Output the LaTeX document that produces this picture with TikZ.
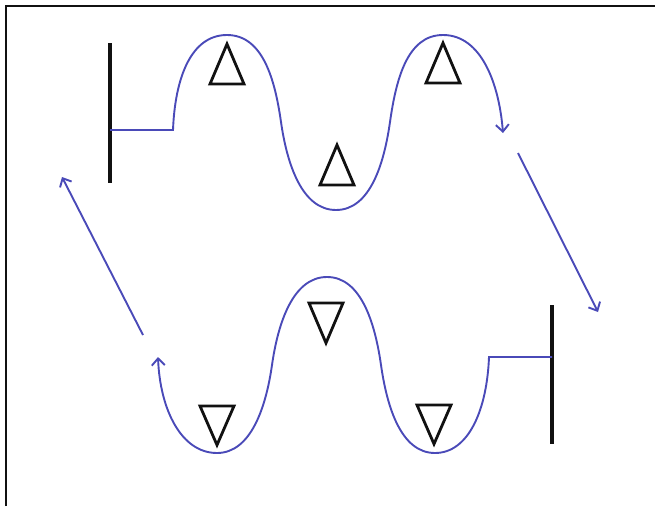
\documentclass[tikz,border=0pt]{standalone}
\usepackage{xcolor}
\usepackage{tikz}
\usetikzlibrary{arrows.meta}
\definecolor{ink}{HTML}{111111}
\definecolor{wav}{HTML}{4A4AB8}
\newcommand{\trimark}[3]{%
  \draw[ink,line width=2.8pt,line join=miter]
    ({#1-17},{#2}) -- ({#1+17},{#2}) -- ({#1},{#2-(#3)}) -- cycle;%
}

\begin{document}
\begin{tikzpicture}[x=1pt,y=-1pt,
  wave/.style={wav,line width=1.9pt},
  barb/.style={-{Straight Barb[length=7pt,width=13pt]}},
  gate/.style={ink,line width=4.5pt}]
\useasboundingbox (0,0) rectangle (655,506);
% frame: only the left and top edges show
\draw[ink,line width=2.4pt] (6,506) -- (6,6) -- (655,6);
% end bars
\coordinate (barA) at (110,130);
\coordinate (barB) at (552,357);
\draw[gate] (110,43) -- (110,183);
\draw[gate] (552,305) -- (552,444);
% upper wave, ends in an arrow
\draw[wave,barb] (barA) -- (173,130)
  .. controls +(2,-52) and +(-36,0) .. (227,35)
  .. controls +(36,0) and +(-6,-42) .. (281,122)
  .. controls +(6,42) and +(-34,0) .. (336,210)
  .. controls +(34,0) and +(-6,42) .. (390,122)
  .. controls +(6,-42) and +(-36,0) .. (443,35)
  .. controls +(38,0) and +(-4,-50) .. (503,133);
% lower wave, drawn from the right bar leftwards
\draw[wave,barb] (barB) -- (489,357)
  .. controls +(-2,52) and +(34,0) .. (435,453)
  .. controls +(-34,0) and +(6,42) .. (381,365)
  .. controls +(-6,-42) and +(34,0) .. (327,277)
  .. controls +(-34,0) and +(6,-42) .. (272,365)
  .. controls +(-6,42) and +(34,0) .. (217,453)
  .. controls +(-36,0) and +(2,52) .. (158,357);
% straight links between the two waves
\coordinate (dnA) at (518,153);
\coordinate (dnB) at (598,312);
\coordinate (upA) at (143,335);
\coordinate (upB) at (62,177);
\draw[wave,barb] (dnA) -- (dnB);
\draw[wave,barb] (upA) -- (upB);
% triangle marks: positive height points up, negative down
\foreach \cx/\by/\h in {227/84/40, 337/185/40, 443/83/40,
                        217/406/-39, 326/303/-40, 434/405/-39}
  \trimark{\cx}{\by}{\h};
\end{tikzpicture}
\end{document}
